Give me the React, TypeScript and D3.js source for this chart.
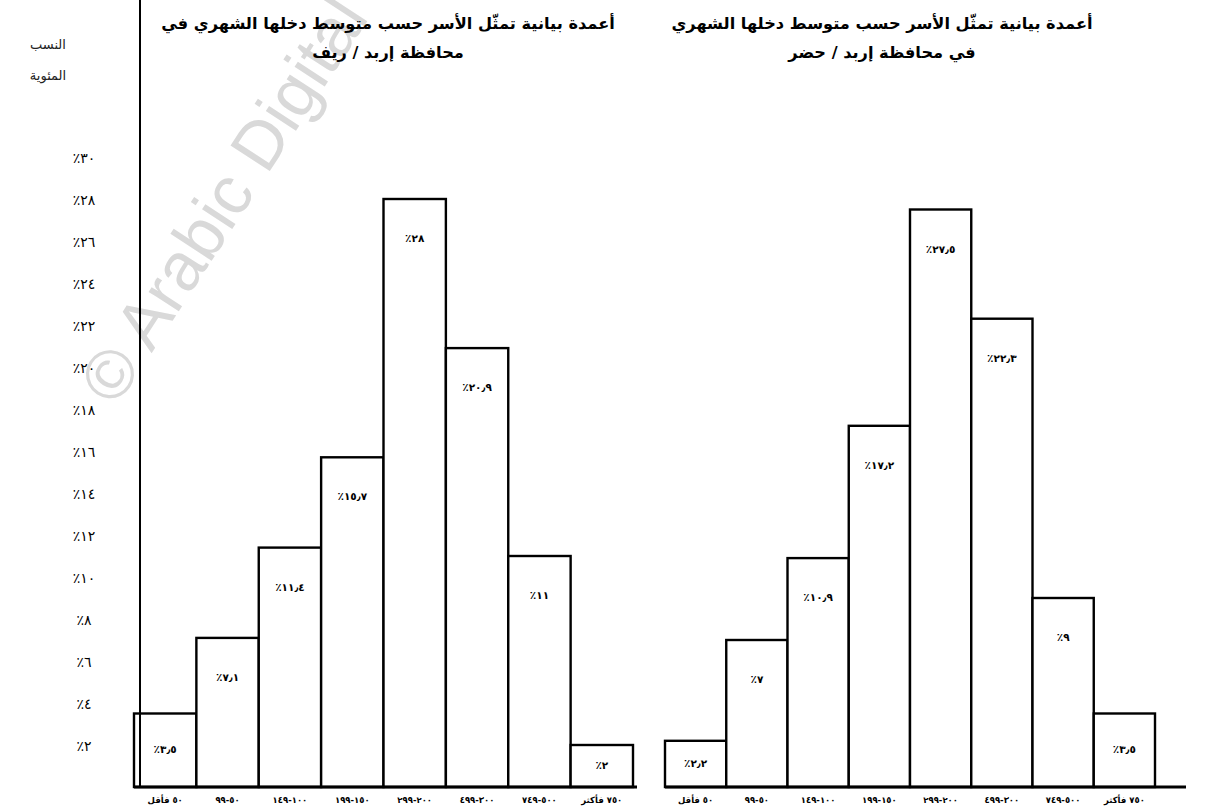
import React from "react";
import * as d3 from "d3";

const categories = [
  "٥٠ فأقل",
  "٥٠-٩٩",
  "١٠٠-١٤٩",
  "١٥٠-١٩٩",
  "٢٠٠-٢٩٩",
  "٣٠٠-٤٩٩",
  "٥٠٠-٧٤٩",
  "٧٥٠ فأكثر",
];
const ruralValues = [3.5, 7.1, 11.4, 15.7, 28, 20.9, 11, 2];
const urbanValues = [2.2, 7, 10.9, 17.2, 27.5, 22.3, 9, 3.5];
const yTicks = [2, 4, 6, 8, 10, 12, 14, 16, 18, 20, 22, 24, 26, 28, 30];
const ruralTitle = [
  "أعمدة بيانية تمثّل الأسر حسب متوسط دخلها الشهري في",
  "محافظة إربد / ريف",
];
const urbanTitle = [
  "أعمدة بيانية تمثّل الأسر حسب متوسط دخلها الشهري",
  "في محافظة إربد / حضر",
];
const yAxisTitle = ["النسب", "المئوية"];
const watermark = "© Arabic Digital Library";

const AR_DIGITS = "٠١٢٣٤٥٦٧٨٩";
const toArabic = (s: string) =>
  s.replace(/\d/g, (d) => AR_DIGITS[+d]).replace(/\./g, "٫");
const fmtValue = (v: number) =>
  "٪" + toArabic(Number.isInteger(v) ? String(v) : v.toFixed(1));

const W = 1210;
const H = 810;
const BASE = 787;
const y = d3.scaleLinear().domain([0, 30]).range([BASE, 157]);

const FONT = "'DejaVu Sans', sans-serif";

type PanelProps = {
  values: number[];
  x0: number;
  x1: number;
  lineEnd: number;
  title: string[];
  titleX: number;
};

function Panel({ values, x0, x1, lineEnd, title, titleX }: PanelProps) {
  const x = d3.scaleBand<string>().domain(categories).range([x0, x1]).padding(0);
  return (
    <g>
      {title.map((t, i) => (
        <text
          key={i}
          x={titleX}
          y={29 + i * 29}
          textAnchor="middle"
          direction="rtl"
          fontFamily={FONT}
          fontWeight="bold"
          fontSize={16.2}
          fill="#000"
        >
          {t}
        </text>
      ))}
      {values.map((v, i) => {
        const cx = x(categories[i])!;
        const top = y(v);
        const h = BASE - top;
        return (
          <g key={i}>
            <rect
              x={cx}
              y={top}
              width={x.bandwidth()}
              height={h}
              fill="#fff"
              stroke="#000"
              strokeWidth={2.4}
            />
            <text
              x={cx + x.bandwidth() / 2}
              y={top + Math.min(h / 2, 40)}
              textAnchor="middle"
              dominantBaseline="middle"
              direction="ltr"
              fontFamily={FONT}
              fontWeight="bold"
              fontSize={10.5}
              fill="#000"
            >
              {fmtValue(v)}
            </text>
          </g>
        );
      })}
      <line x1={x0} x2={lineEnd} y1={BASE} y2={BASE} stroke="#000" strokeWidth={3} />
      {categories.map((c) => (
        <text
          key={c}
          x={x(c)! + x.bandwidth() / 2}
          y={803}
          textAnchor="middle"
          direction="rtl"
          fontFamily={FONT}
          fontWeight="bold"
          fontSize={8.5}
          fill="#000"
        >
          {c}
        </text>
      ))}
    </g>
  );
}

export default function App() {
  return (
    <svg
      width={W}
      height={H}
      viewBox={`0 0 ${W} ${H}`}
      style={{ position: "absolute", left: 0, top: 0, background: "#fff" }}
    >
      <rect x={0} y={0} width={W} height={H} fill="#fff" />
      <text
        x={116}
        y={408}
        transform="rotate(-57 116 408)"
        fontFamily="'Liberation Sans', Arial, sans-serif"
        fontSize={68}
        fill="#d9d9d9"
      >
        {watermark}
      </text>
      {yAxisTitle.map((t, i) => (
        <text
          key={t}
          x={48}
          y={49 + i * 31}
          textAnchor="middle"
          direction="rtl"
          fontFamily={FONT}
          fontSize={13}
          fill="#222"
        >
          {t}
        </text>
      ))}
      {yTicks.map((t) => (
        <text
          key={t}
          x={84}
          y={y(t) + 2}
          textAnchor="middle"
          dominantBaseline="middle"
          direction="ltr"
          fontFamily={FONT}
          fontSize={14}
          fill="#000"
        >
          {"٪" + toArabic(String(t))}
        </text>
      ))}
      <Panel
        values={ruralValues}
        x0={134}
        x1={633}
        lineEnd={637}
        title={ruralTitle}
        titleX={388}
      />
      <Panel
        values={urbanValues}
        x0={665}
        x1={1155}
        lineEnd={1186}
        title={urbanTitle}
        titleX={882}
      />
      <line x1={140} x2={140} y1={0} y2={BASE} stroke="#000" strokeWidth={2} />
    </svg>
  );
}
